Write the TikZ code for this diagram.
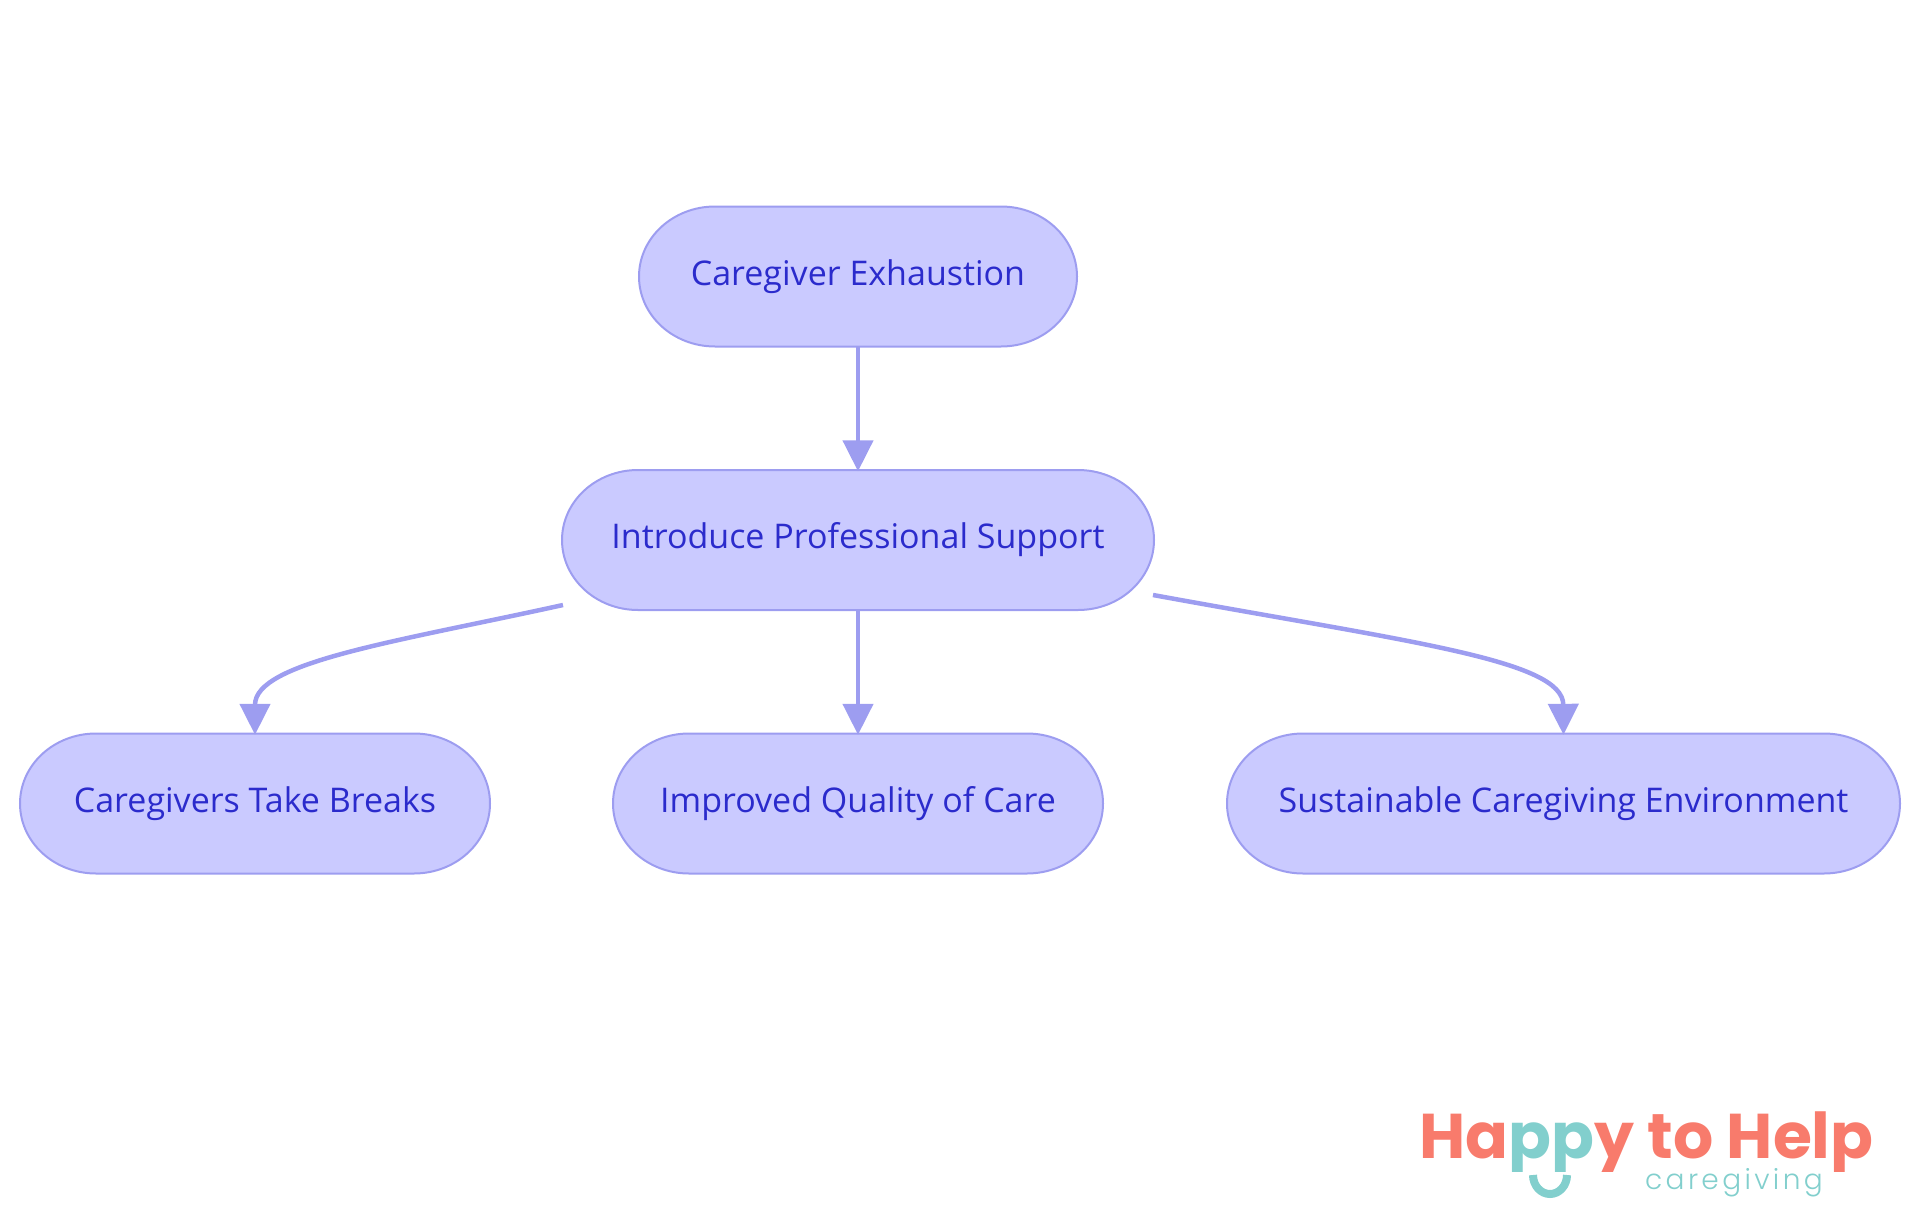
\documentclass[tikz,border=0pt]{standalone}
\usepackage{fontspec}
\setmainfont{Open Sans}
\newfontfamily\logofont{Poppins}
\newfontfamily\logolight[LetterSpace=12]{Poppins Light}
\usetikzlibrary{arrows.meta}
\definecolor{nodefill}{HTML}{CACAFF}
\definecolor{nodeline}{HTML}{9D9DF0}
\definecolor{nodetext}{HTML}{2B2BCC}
\definecolor{logored}{HTML}{F87B6C}
\definecolor{logoteal}{HTML}{82CFCD}
\tikzset{
  x=1pt,y=-1pt,
  pillshape/.style={draw=nodeline,fill=nodefill,line width=2pt},
  pilltext/.style={minimum height=140pt,inner sep=0pt,text=nodetext,font=\fontsize{34}{40}\selectfont},
  edge/.style={draw=nodeline,line width=4.5pt,shorten >=-1.5pt,-{Triangle[length=31pt,width=30pt]}},
  logo/.style={inner sep=0pt,anchor=base west,font=\logofont\bfseries\fontsize{63.2}{64}\selectfont},
  logosub/.style={inner sep=0pt,anchor=base west,text=logoteal,font=\logolight\fontsize{28}{30}\selectfont},
}
% name, centre x, centre y, width, text
\newcommand\pillnode[5]{%
  \pgfmathsetmacro\pl{#2-#4/2}\pgfmathsetmacro\pr{#2+#4/2}%
  \pgfmathsetmacro\pt{#3-70}\pgfmathsetmacro\pb{#3+70}%
  \pgfmathsetmacro\pla{\pl+76}\pgfmathsetmacro\pra{\pr-76}%
  \draw[pillshape] (\pl,#3) arc[start angle=180,end angle=270,x radius=76,y radius=70]
    -- (\pra,\pt) arc[start angle=270,end angle=360,x radius=76,y radius=70]
    arc[start angle=0,end angle=90,x radius=76,y radius=70]
    -- (\pla,\pb) arc[start angle=90,end angle=180,x radius=76,y radius=70] -- cycle;
  \node[pilltext,minimum width=#4pt] (#1) at (#2,#3) {\raisebox{1.5pt}{#5}};%
}
\begin{document}
\begin{tikzpicture}
\useasboundingbox (0,0) rectangle (1920,1215);
\pillnode{a}{858}{276.5}{438}{Caregiver Exhaustion}
\pillnode{b}{858}{540}{592}{Introduce Professional Support}
\pillnode{c}{255}{803.5}{470}{Caregivers Take Breaks}
\pillnode{d}{858}{803.5}{490}{Improved Quality of Care}
\pillnode{e}{1563.5}{803.5}{673}{Sustainable Caregiving Environment}
\coordinate (bl) at (563,605);
\coordinate (br) at (1153,595);
\path[edge] (a) -- (b);
\path[edge] (b) -- (d);
\path[edge] (bl) .. controls (395,642) and (255,662) .. (c.north);
\path[edge] (br) .. controls (1410,642) and (1563,660) .. (e.north);
\begin{scope}
\clip (1400,1090) rectangle (1900,1171);
\node[logo,text=logored] (l1) at (1419,1158) {Ha\textcolor{logoteal}{pp}y to Help};
\end{scope}
\node[logosub] (l2) at (1645,1189) {caregiving};
\draw[logoteal,line width=8pt] (1533,1175) arc[start angle=180,end angle=360,x radius=17,y radius=-19];
\end{tikzpicture}
\end{document}
